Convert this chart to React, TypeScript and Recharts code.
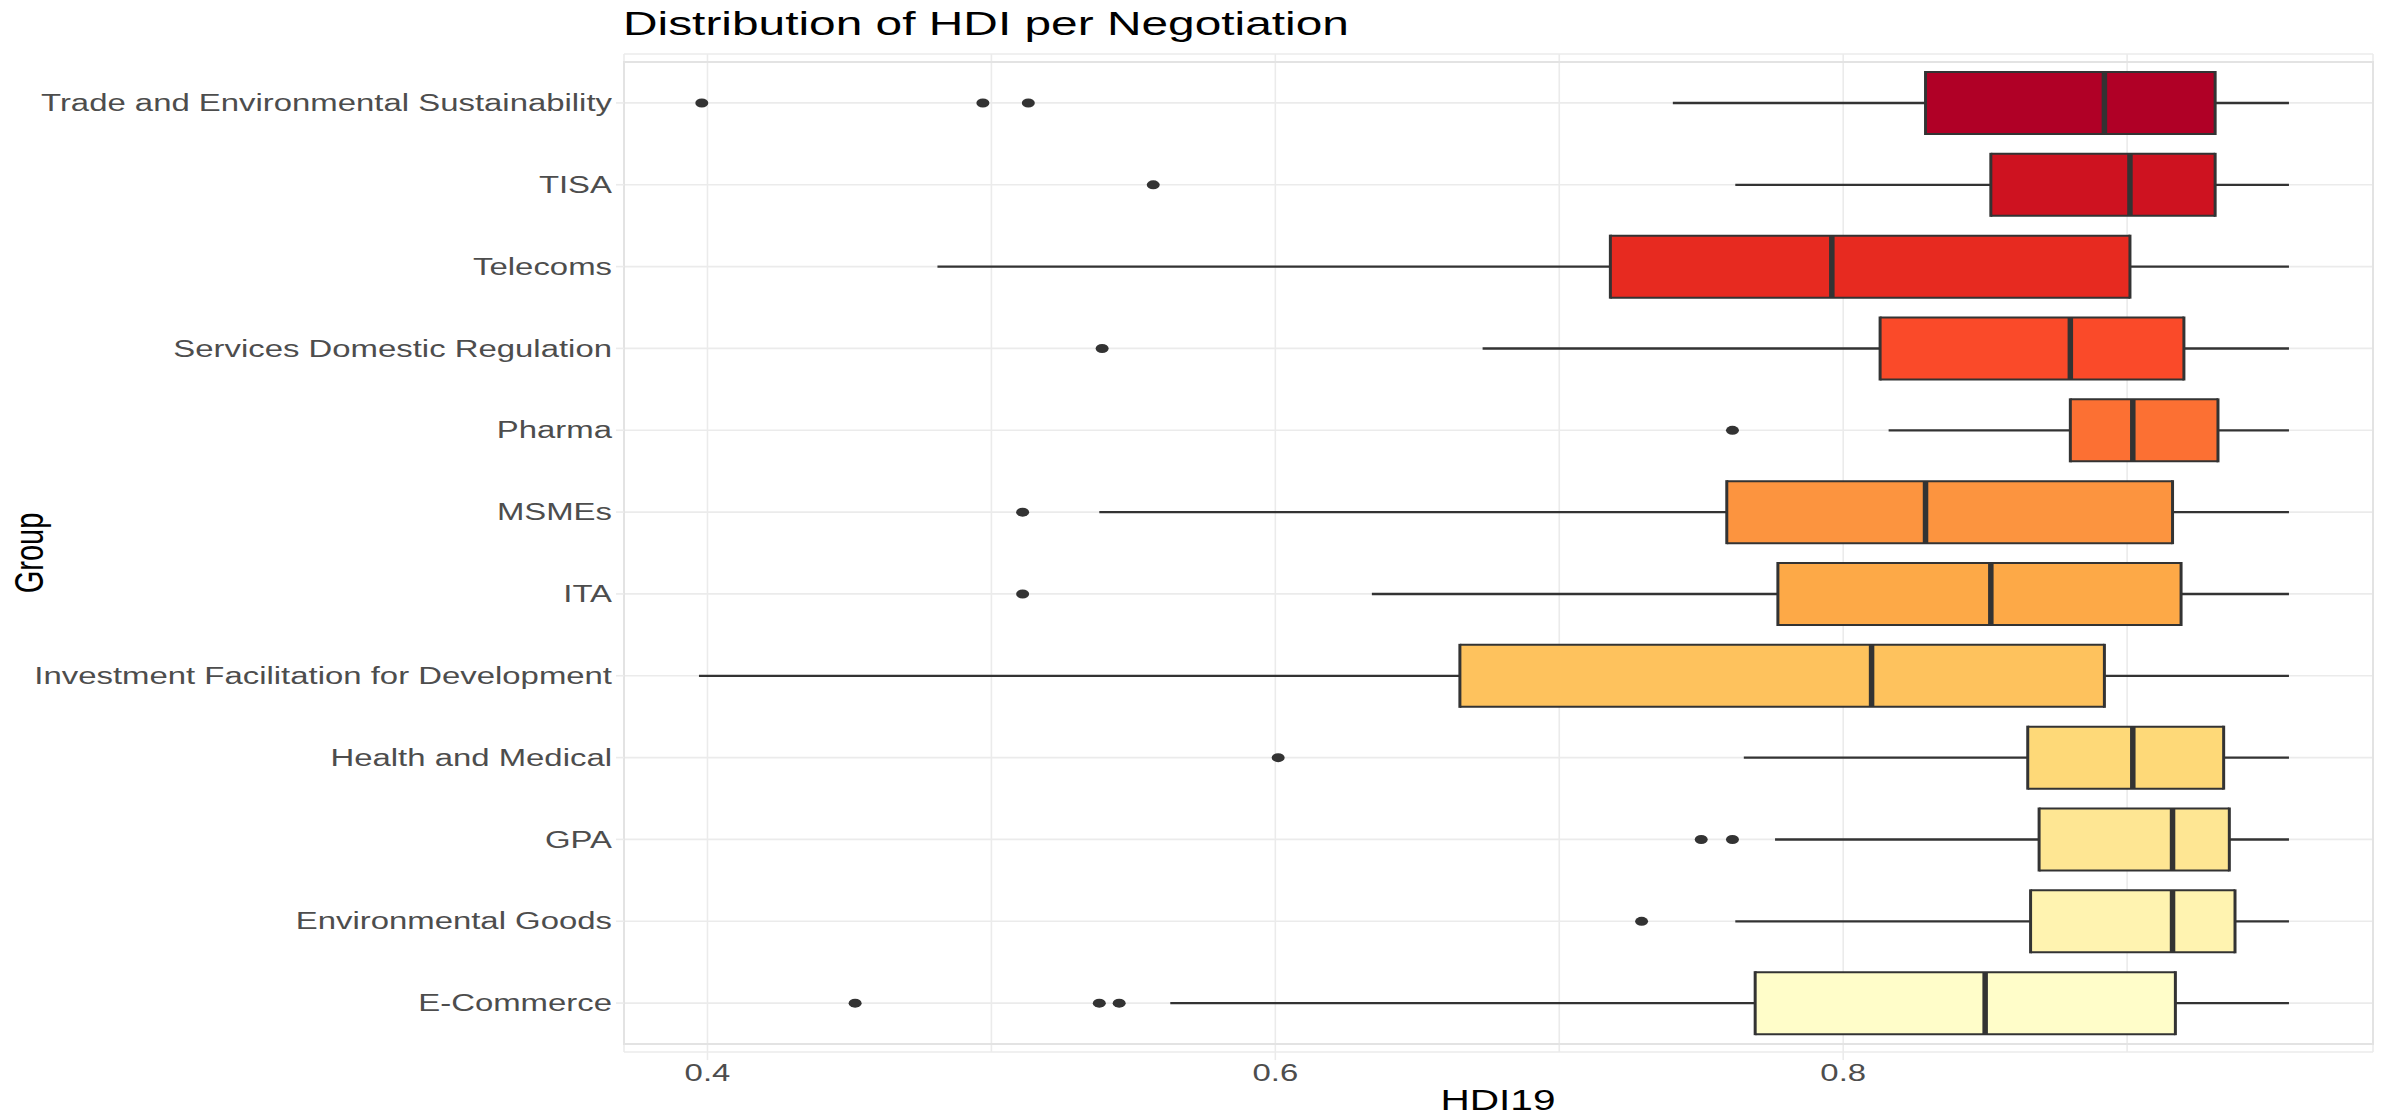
/* Distribution of HDI per Negotiation — horizontal box plots drawn with Recharts */

import {
  ComposedChart,
  Bar,
  Cell,
  XAxis,
  YAxis,
  CartesianGrid,
  ReferenceArea,
  Customized,
} from 'recharts';

/* ── Data ─────────────────────────────────────── */

const GROUPS = [
  'Trade and Environmental Sustainability',
  'TISA',
  'Telecoms',
  'Services Domestic Regulation',
  'Pharma',
  'MSMEs',
  'ITA',
  'Investment Facilitation for Development',
  'Health and Medical',
  'GPA',
  'Environmental Goods',
  'E-Commerce',
];

const WHISKER_LOW = [0.740, 0.762, 0.481, 0.673, 0.816, 0.538, 0.634, 0.397, 0.765, 0.776, 0.762, 0.563];
const Q1 = [0.829, 0.852, 0.718, 0.813, 0.880, 0.759, 0.777, 0.665, 0.865, 0.869, 0.866, 0.769];
const MEDIAN = [0.892, 0.901, 0.796, 0.880, 0.902, 0.829, 0.852, 0.810, 0.902, 0.916, 0.916, 0.850];
const Q3 = [0.931, 0.931, 0.901, 0.920, 0.932, 0.916, 0.919, 0.892, 0.934, 0.936, 0.938, 0.917];
const WHISKER_HIGH = [0.957, 0.957, 0.957, 0.957, 0.957, 0.957, 0.957, 0.957, 0.957, 0.957, 0.957, 0.957];
const OUTLIERS = [
  [0.398, 0.497, 0.513],
  [0.557],
  [],
  [0.539],
  [0.761],
  [0.511],
  [0.511],
  [],
  [0.601],
  [0.750, 0.761],
  [0.729],
  [0.452, 0.538, 0.545],
];

const ALL_TICKS = [0.4, 0.5, 0.6, 0.7, 0.8, 0.9];
const MAJOR_TICKS = [0.4, 0.6, 0.8];
const X_DOMAIN = [0.3706, 0.9866];

/* ── Styles ───────────────────────────────────── */

const FILLS = [
  '#B00026', '#CE1220', '#E72A20', '#FA4A29', '#FC7033', '#FC943F',
  '#FDA947', '#FEC25D', '#FED978', '#FEE693', '#FFF3B0', '#FFFDC9',
];

const FONT = '"Liberation Sans", Arial, Helvetica, sans-serif';
const STRETCH = 1.4; // the original render is widened horizontally
const INK = '#333333';
const AXIS_TEXT = '#4D4D4D';
const GRID = '#EBEBEB';

const chartData = GROUPS.map((group, i) => ({
  group,
  range: [WHISKER_LOW[i], WHISKER_HIGH[i]],
  q1: Q1[i],
  median: MEDIAN[i],
  q3: Q3[i],
  outliers: OUTLIERS[i],
}));

/* ── Box plot shape (positions come from the bar's scaled extent) ── */

function BoxPlotShape(props: any) {
  const { x, y, width, height, fill, payload } = props;
  const [lo, hi] = payload.range;
  const toX = (v: number) => x + ((v - lo) / (hi - lo)) * width;
  const cy = y + height / 2;
  const xq1 = toX(payload.q1);
  const xmed = toX(payload.median);
  const xq3 = toX(payload.q3);

  return (
    <g>
      <line x1={toX(lo)} x2={xq1} y1={cy} y2={cy} stroke={INK} strokeWidth={2.3} />
      <line x1={xq3} x2={toX(hi)} y1={cy} y2={cy} stroke={INK} strokeWidth={2.3} />
      <rect x={xq1} y={y} width={xq3 - xq1} height={height} fill={fill} />
      <line x1={xq1} x2={xq3} y1={y} y2={y} stroke={INK} strokeWidth={2} />
      <line x1={xq1} x2={xq3} y1={y + height} y2={y + height} stroke={INK} strokeWidth={2} />
      <line x1={xq1} x2={xq1} y1={y - 1} y2={y + height + 1} stroke={INK} strokeWidth={3} />
      <line x1={xq3} x2={xq3} y1={y - 1} y2={y + height + 1} stroke={INK} strokeWidth={3} />
      <line x1={xmed} x2={xmed} y1={y} y2={y + height} stroke={INK} strokeWidth={5.5} />
      {payload.outliers.map((v: number, k: number) => (
        <ellipse key={k} cx={toX(v)} cy={cy} rx={6.5} ry={4.5} fill={INK} />
      ))}
    </g>
  );
}

/* ── Axis ticks ───────────────────────────────── */

function GroupTick({ x, y, payload }: any) {
  return (
    <g transform={`translate(${x},${y}) scale(${STRETCH},1)`}>
      <text x={0} y={0} dy="0.35em" textAnchor="end" fontSize={23.5} fontFamily={FONT} fill={AXIS_TEXT}>
        {payload.value}
      </text>
    </g>
  );
}

function ValueTick({ x, y, payload }: any) {
  if (!MAJOR_TICKS.includes(payload.value)) return null;
  return (
    <g>
      <line x1={x} x2={x} y1={y - 12} y2={y - 4} stroke={GRID} strokeWidth={1.6} />
      <g transform={`translate(${x},${y}) scale(${STRETCH},1)`}>
        <text x={0} y={0} dy="0.71em" textAnchor="middle" fontSize={23.5} fontFamily={FONT} fill={AXIS_TEXT}>
          {payload.value.toFixed(1)}
        </text>
      </g>
    </g>
  );
}

/* ── Titles ───────────────────────────────────── */

function Titles() {
  return (
    <g fontFamily={FONT} fill="#000000">
      <text transform="translate(623,35) scale(1.45,1)" fontSize={33}>
        Distribution of HDI per Negotiation
      </text>
      <text transform={`translate(1498,1110) scale(${STRETCH},1)`} textAnchor="middle" fontSize={29}>
        HDI19
      </text>
      <text transform={`translate(43,553) scale(${STRETCH},1) rotate(-90)`} textAnchor="middle" fontSize={29}>
        Group
      </text>
    </g>
  );
}

/* ── Chart ────────────────────────────────────── */

export default function App() {
  return (
    <div style={{ position: 'fixed', left: 0, top: 0, background: '#ffffff' }}>
      <ComposedChart
        width={2382}
        height={1115}
        data={chartData}
        layout="vertical"
        margin={{ top: 54, right: 9, bottom: 0, left: 0 }}
      >
        <CartesianGrid stroke={GRID} strokeWidth={1.6} />
        <XAxis
          type="number"
          domain={X_DOMAIN}
          ticks={ALL_TICKS}
          allowDataOverflow
          height={63}
          axisLine={false}
          tickLine={false}
          tickSize={8}
          tickMargin={4}
          tick={<ValueTick />}
          interval={0}
        />
        <YAxis
          type="category"
          dataKey="group"
          width={624}
          axisLine={false}
          tickLine={{ stroke: GRID, strokeWidth: 1.6 }}
          tickSize={8}
          tickMargin={4}
          tick={<GroupTick />}
          interval={0}
          padding={{ top: 8, bottom: 8 }}
        />
        <ReferenceArea x1={X_DOMAIN[0]} x2={X_DOMAIN[1]} fill="none" stroke="#E3E3E3" strokeWidth={2} />
        <Bar dataKey="range" barSize={62} shape={<BoxPlotShape />} isAnimationActive={false}>
          {chartData.map((entry, i) => (
            <Cell key={entry.group} fill={FILLS[i]} />
          ))}
        </Bar>
        <Customized component={Titles} />
      </ComposedChart>
    </div>
  );
}
